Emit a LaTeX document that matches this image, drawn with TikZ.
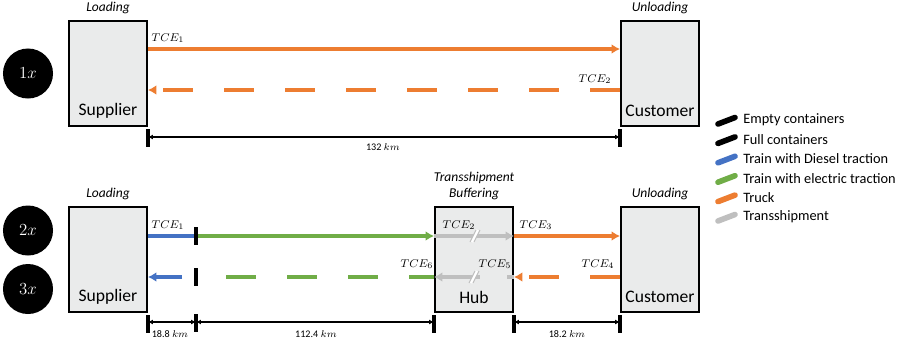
\documentclass[tikz,border=0pt]{standalone}
\usepackage[no-math]{fontspec}
\setmainfont{Carlito}
\usetikzlibrary{arrows.meta,calc,positioning}
\definecolor{orange}{HTML}{ED7D31}
\definecolor{blue}{HTML}{4472C4}
\definecolor{green}{HTML}{70AD47}
\definecolor{grey}{HTML}{BFBFBF}
\definecolor{boxgrey}{HTML}{EAEBEB}

\begin{document}
\begin{tikzpicture}[x=0.025cm,y=-0.025cm,>=Latex,
  stationbox/.style={draw=black,line width=1.4pt,fill=boxgrey,minimum width=1.95cm,minimum height=2.625cm,inner sep=0pt},
  boxtext/.style={font=\fontsize{12.5}{14}\selectfont,inner sep=0pt},
  stagetext/.style={font=\fontsize{9.6}{11}\selectfont\itshape,inner sep=0pt},
  tcetext/.style={font=\fontsize{8.5}{10}\selectfont,inner sep=0pt},
  dimtext/.style={font=\fontsize{7.2}{8}\selectfont,inner sep=0pt},
  runcircle/.style={circle,fill=black,minimum size=1.25cm,inner sep=0pt,text=white,font=\fontsize{12}{14}\selectfont},
  legtext/.style={anchor=west,font=\fontsize{10.2}{12}\selectfont,inner sep=0pt},
  modeline/.style={line width=2.6pt},
  truckline/.style={modeline,draw=orange},
  dieselline/.style={modeline,draw=blue},
  elecline/.style={modeline,draw=green},
  transline/.style={modeline,draw=grey},
  gapdash/.style={dash pattern=on 0.75cm off 0.775cm},
  bigtip/.style={-{Latex[length=6pt,width=7pt]}},
  dimline/.style={line width=1.1pt,{Latex[length=3.5pt,width=3.5pt]}-{Latex[length=3.5pt,width=3.5pt]}},
  tickbar/.style={line width=2.2pt}]
\useasboundingbox (0,0) rectangle (914,344);

% run counters
\node[runcircle] (run1) at (28,73.5) {$1x$};
\node[runcircle] (run2) at (28,230.5) {$2x$};
\node[runcircle] (run3) at (28,289) {$3x$};

% direct truck run
\node[stationbox] (sup1) at (108,73.5) {};
\node[stationbox] (cus1) at (660,73.5) {};
\node[boxtext] (suptxt1) at ($(sup1.south)+(0,-16)$) {Supplier};
\node[boxtext] (custxt1) at ($(cus1.south)+(0,-16)$) {Customer};
\node[stagetext] (load1) at ($(sup1.north)+(0,-12)$) {Loading};
\node[stagetext] (unload1) at ($(cus1.north)+(0,-12)$) {Unloading};

\draw[truckline,bigtip] (sup1.east |- 0,49) -- (cus1.west |- 0,49);
\draw[truckline,gapdash,bigtip] (cus1.west |- 0,90) -- (sup1.east |- 0,90);
\node[tcetext] (tce11) at (168,38) {$TCE_1$};
\node[tcetext] (tce12) at (595,79) {$TCE_2$};

\draw[tickbar] (sup1.south east) ++(0,2) -- ++(0,18);
\draw[tickbar] (cus1.south west) ++(0,2) -- ++(0,18);
\draw[dimline] (sup1.south east |- 0,137) -- (cus1.south west |- 0,137);
\node[dimtext] (dist1) at (383,147) {132 $km$};

% intermodal run via hub
\node[stationbox] (sup2) at (108,259.5) {};
\node[stationbox] (hub) at (474,259.5) {};
\node[stationbox] (cus2) at (660,259.5) {};
\node[boxtext] (suptxt2) at ($(sup2.south)+(0,-16)$) {Supplier};
\node[boxtext] (hubtxt) at ($(hub.south)+(0,-16)$) {Hub};
\node[boxtext] (custxt2) at ($(cus2.south)+(0,-16)$) {Customer};
\node[stagetext] (load2) at ($(sup2.north)+(0,-12)$) {Loading};
\node[stagetext] (buffer) at ($(hub.north)+(0,-12)$) {Buffering};
\node[stagetext] (transs) at ($(hub.north)+(0,-28)$) {Transshipment};
\node[stagetext] (unload2) at ($(cus2.north)+(0,-12)$) {Unloading};

\coordinate (sw2) at (196,236);
\coordinate (sw3) at (196,277);
\coordinate (bl3) at (182,277);

\draw[dieselline] (sup2.east |- sw2) -- (sw2);
\draw[elecline,bigtip] (sw2) -- (hub.west |- sw2);
\draw[transline,bigtip] (hub.west |- sw2) -- (hub.east |- sw2);
\draw[truckline,bigtip] (hub.east |- sw2) -- (cus2.west |- sw2);

\draw[truckline,gapdash,bigtip] (cus2.west |- sw3) -- (hub.east |- sw3);
\draw[transline,dash pattern=on 0.175cm off 0.675cm on 3cm off 1cm,bigtip] (hub.east |- sw3) -- (hub.west |- sw3);
\draw[elecline,gapdash,dash phase=0.125cm] (hub.west |- sw3) -- (sw3);
\draw[dieselline,bigtip] (bl3) -- (sup2.east |- sw3);

\draw[tickbar] (196,227) -- (196,245);
\draw[tickbar] (196,268) -- (196,286);

% break marks on transshipment
\foreach \bx/\by in {475/236,474/277}{
  \draw[white,line width=2pt] (\bx-3,\by+6) -- (\bx+3,\by-6);
  \draw[grey,line width=0.7pt] (\bx-5,\by+6) -- (\bx+1,\by-6) (\bx-1,\by+6) -- (\bx+5,\by-6);
}

\node[tcetext] (tce21) at (168,225) {$TCE_1$};
\node[tcetext] (tce22) at (459,225) {$TCE_2$};
\node[tcetext] (tce23) at (536,225) {$TCE_3$};
\node[tcetext] (tce24) at (598,264) {$TCE_4$};
\node[tcetext] (tce25) at (495,264) {$TCE_5$};
\node[tcetext] (tce26) at (417,264) {$TCE_6$};

\draw[tickbar] (sup2.south east) ++(0,2) -- ++(0,18);
\draw[tickbar] (196,314) -- (196,332);
\draw[tickbar] (hub.south west) ++(0,2) -- ++(0,18);
\draw[tickbar] (hub.south east) ++(0,2) -- ++(0,18);
\draw[tickbar] (cus2.south west) ++(0,2) -- ++(0,18);
\draw[dimline] (sup2.south east |- 0,322) -- (sw2 |- 0,322);
\draw[dimline] (sw2 |- 0,322) -- (hub.south west |- 0,322);
\draw[dimline] (hub.south east |- 0,322) -- (cus2.south west |- 0,322);
\node[dimtext] (dist21) at (170,334) {18.8 $km$};
\node[dimtext] (dist22) at (316,334) {112.4 $km$};
\node[dimtext] (dist23) at (567,334) {18.2 $km$};

% legend
\foreach \col/\txt [count=\i] in {black/Empty containers,black/Full containers,blue/Train with Diesel traction,green/Train with electric traction,orange/Truck,grey/Transshipment}{
  \node[legtext] (leg\i) at (743,{100.6+19.4*\i}) {\txt};
  \draw[\col,line width=4pt,line cap=round] ($(leg\i.west)+(-25,4)$) -- ($(leg\i.west)+(-8,-2.5)$);
}
\end{tikzpicture}
\end{document}
